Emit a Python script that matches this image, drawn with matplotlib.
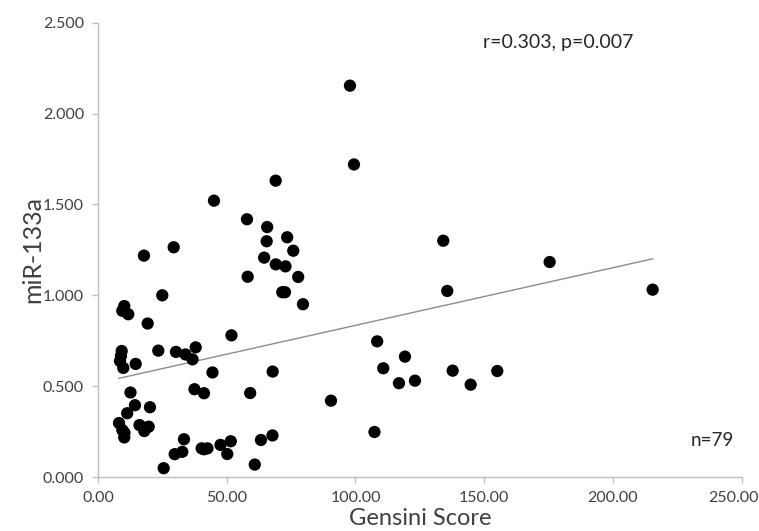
import numpy as np
import matplotlib
matplotlib.use('Agg')
import matplotlib.pyplot as plt

plt.rcParams['font.family'] = ['Lato', 'DejaVu Sans']

# Gensini score vs miR-133a
gensini = [9.20, 8.54, 9.83, 14.64, 10.21, 9.44, 11.77, 24.97, 19.30, 23.42,
           30.29, 33.98, 37.94, 36.70, 44.47, 12.62, 37.48, 41.17, 14.37, 11.34,
           20.19, 8.16, 9.44, 10.21, 16.12, 17.98, 19.69, 33.40, 29.79, 32.74,
           40.27, 42.52, 47.57, 51.57, 50.21, 63.30, 67.77, 60.89, 25.51, 17.86,
           29.40, 45.05, 51.84, 59.11, 67.84, 69.01, 57.86, 65.71, 65.51, 73.48,
           75.84, 64.54, 69.05, 72.82, 58.14, 77.75, 71.57, 72.62, 79.61, 97.86,
           99.42, 90.49, 107.38, 108.43, 110.80, 119.22, 116.89, 123.11, 134.10, 135.65,
           137.75, 144.74, 155.07, 175.42, 215.42, 8.93, 10.29, 18.64, 41.20]
mir133a = [0.695, 0.640, 0.602, 0.624, 0.942, 0.916, 0.897, 1.001, 0.846, 0.697,
           0.690, 0.676, 0.715, 0.649, 0.577, 0.467, 0.485, 0.463, 0.397, 0.353,
           0.386, 0.299, 0.261, 0.220, 0.288, 0.255, 0.279, 0.210, 0.128, 0.141,
           0.160, 0.160, 0.179, 0.199, 0.129, 0.206, 0.231, 0.071, 0.051, 1.219,
           1.265, 1.521, 0.781, 0.464, 0.582, 1.631, 1.419, 1.376, 1.298, 1.320,
           1.246, 1.208, 1.171, 1.160, 1.103, 1.102, 1.018, 1.018, 0.952, 2.153,
           1.720, 0.422, 0.250, 0.748, 0.600, 0.664, 0.518, 0.532, 1.301, 1.025,
           0.587, 0.510, 0.585, 1.184, 1.032, 0.668, 0.245, 0.272, 0.155]

xticks = np.arange(0, 251, 50)
yticks = np.arange(0, 2.51, 0.5)

x = np.array(gensini)
y = np.array(mir133a)

# linear trend line
slope, intercept = np.polyfit(x, y, 1)
xl = np.array([x.min(), x.max()])

fig = plt.figure(figsize=(7.59, 5.31), dpi=100)
ax = fig.add_axes([0.1291, 0.1008, 0.8481, 0.8568])

ax.scatter(x, y, s=78, color='black', edgecolors='none', zorder=3)
ax.plot(xl, slope * xl + intercept, color='#8c8c8c', linewidth=1.0, zorder=2)

ax.set_xlim(0, 250)
ax.set_ylim(0, 2.5)
ax.set_xticks(xticks)
ax.set_yticks(yticks)
xlabels = ['%.2f' % v for v in xticks]
# last label is drawn separately, nudged left so it stays inside the figure
ax.set_xticklabels(xlabels[:-1] + [''])
ax.set_yticklabels(['%.3f' % v for v in yticks])

for s in ['top', 'right']:
    ax.spines[s].set_visible(False)
for s in ['left', 'bottom']:
    ax.spines[s].set_color('#bfbfbf')
    ax.spines[s].set_linewidth(1.0)
ax.tick_params(colors='#bfbfbf', labelcolor='#404040', length=4, width=1.0,
               labelsize=11.5, pad=6)

ax.annotate(xlabels[-1], xy=(xticks[-1], 0), xycoords=('data', 'axes fraction'),
            xytext=(-6, -10), textcoords='offset points', ha='center', va='top',
            fontsize=11.5, color='#404040', annotation_clip=False)

ax.set_xlabel('Gensini Score', fontsize=17, color='#404040', labelpad=2)
ax.set_ylabel('miR-133a', fontsize=18, color='#404040', labelpad=-1)

ax.text(0.715, 0.955, 'r=0.303, p=0.007', transform=ax.transAxes,
        fontsize=14, color='#262626', ha='center', va='center')
ax.text(0.988, 0.082, 'n=79', transform=ax.transAxes,
        fontsize=13.5, color='#262626', ha='right', va='center')

fig.savefig('out.png', dpi=100)
